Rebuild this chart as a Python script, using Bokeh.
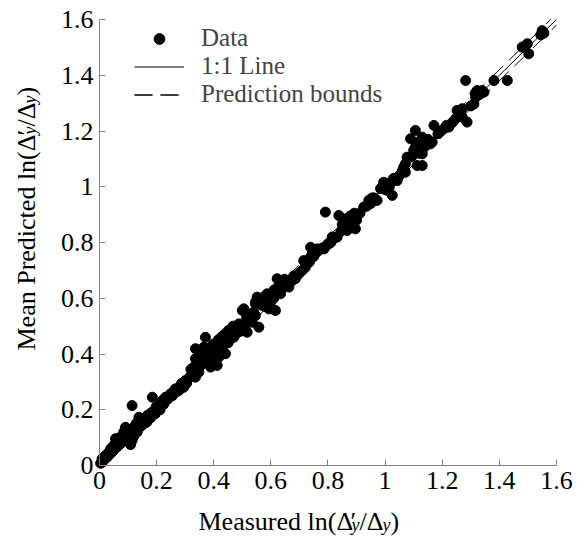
import math
from bokeh.plotting import figure
from bokeh.models import Label, Legend, LegendItem, FixedTicker, Range1d
from bokeh.embed import file_html
from bokeh.resources import INLINE

# ---- data ----
measured = [
    0.004, 0.009, 0.015, 0.021, 0.027, 0.033, 0.039, 0.045, 0.050, 0.056,
    0.062, 0.060, 0.070, 0.075, 0.080, 0.091, 0.085, 0.095, 0.103, 0.109,
    0.114, 0.120, 0.126, 0.114, 0.132, 0.138, 0.138, 0.145, 0.150, 0.155,
    0.161, 0.165, 0.173, 0.178, 0.185, 0.190, 0.195, 0.200, 0.208, 0.212,
    0.220, 0.225, 0.231, 0.235, 0.240, 0.249, 0.255, 0.260, 0.266, 0.270,
    0.278, 0.284, 0.290, 0.295, 0.301, 0.305, 0.310, 0.318, 0.325, 0.330,
    0.336, 0.336, 0.336, 0.340, 0.348, 0.355, 0.360, 0.365, 0.371, 0.375,
    0.383, 0.389, 0.395, 0.400, 0.406, 0.412, 0.418, 0.420, 0.430, 0.435,
    0.441, 0.447, 0.450, 0.455, 0.465, 0.470, 0.475, 0.482, 0.488, 0.490,
    0.500, 0.500, 0.505, 0.510, 0.517, 0.523, 0.529, 0.535, 0.546, 0.546,
    0.546, 0.552, 0.558, 0.570, 0.575, 0.580, 0.587, 0.593, 0.593, 0.600,
    0.605, 0.610, 0.616, 0.616, 0.622, 0.628, 0.634, 0.640, 0.645, 0.650,
    0.663, 0.669, 0.675, 0.686, 0.692, 0.700, 0.710, 0.715, 0.720, 0.727,
    0.735, 0.739, 0.739, 0.750, 0.762, 0.770, 0.786, 0.790, 0.791, 0.803,
    0.810, 0.820, 0.832, 0.838, 0.845, 0.855, 0.867, 0.867, 0.875, 0.879,
    0.885, 0.890, 0.896, 0.900, 0.912, 0.925, 0.935, 0.943, 0.950, 0.962,
    0.972, 0.984, 0.995, 1.000, 1.007, 1.015, 1.025, 1.025, 1.042, 1.050,
    1.060, 1.071, 1.071, 1.077, 1.089, 1.089, 1.100, 1.106, 1.112, 1.120,
    1.130, 1.130, 1.130, 1.136, 1.147, 1.159, 1.165, 1.171, 1.185, 1.206,
    1.223, 1.235, 1.247, 1.252, 1.270, 1.270, 1.287, 1.282, 1.311, 1.317,
    1.322, 1.330, 1.346, 1.381, 1.428, 1.480, 1.498, 1.503, 1.545, 1.556,
    0.010, 0.018, 0.030, 0.042, 0.052, 0.065, 0.070, 0.085, 0.098, 0.118,
    0.128, 0.142, 0.158, 0.168, 0.182, 0.198, 0.215, 0.245, 0.262, 0.288,
    0.320, 0.345, 0.352, 0.362, 0.378, 0.392, 0.410, 0.425, 0.445, 0.460,
    0.478, 0.515, 0.540, 0.560, 0.565, 0.585, 0.600, 0.625, 0.655, 0.680,
    0.745, 0.758, 0.780, 0.815, 0.850, 0.860, 0.872, 0.882, 0.955, 0.990,
    1.030, 1.065, 1.095, 1.105, 1.125, 1.140, 1.150, 1.195, 1.215, 1.260,
    1.300, 1.315, 1.340, 1.550,
    0.345, 0.358, 0.372, 0.385, 0.398, 0.415, 0.428, 0.438, 0.452, 0.468,
    0.575, 0.590, 0.612, 0.632, 0.648, 0.862, 0.878, 0.892, 1.110, 1.118,
]
predicted = [
    0.008, 0.024, 0.020, 0.036, 0.030, 0.048, 0.060, 0.050, 0.072, 0.096,
    0.084, 0.065, 0.075, 0.090, 0.085, 0.137, 0.110, 0.100, 0.114, 0.075,
    0.090, 0.105, 0.132, 0.215, 0.120, 0.137, 0.173, 0.140, 0.149, 0.150,
    0.161, 0.155, 0.173, 0.170, 0.245, 0.191, 0.185, 0.200, 0.209, 0.200,
    0.233, 0.220, 0.245, 0.235, 0.240, 0.257, 0.250, 0.258, 0.275, 0.265,
    0.269, 0.287, 0.280, 0.281, 0.305, 0.295, 0.310, 0.320, 0.330, 0.353,
    0.317, 0.383, 0.419, 0.340, 0.335, 0.360, 0.365, 0.424, 0.460, 0.380,
    0.401, 0.353, 0.390, 0.383, 0.424, 0.359, 0.389, 0.400, 0.413, 0.466,
    0.401, 0.478, 0.440, 0.450, 0.472, 0.460, 0.470, 0.502, 0.508, 0.480,
    0.484, 0.556, 0.562, 0.500, 0.478, 0.538, 0.544, 0.514, 0.538, 0.580,
    0.586, 0.604, 0.496, 0.574, 0.604, 0.570, 0.616, 0.562, 0.586, 0.590,
    0.562, 0.600, 0.556, 0.616, 0.670, 0.630, 0.616, 0.635, 0.652, 0.645,
    0.640, 0.658, 0.665, 0.670, 0.682, 0.690, 0.700, 0.735, 0.710, 0.723,
    0.730, 0.747, 0.783, 0.750, 0.777, 0.775, 0.777, 0.785, 0.909, 0.795,
    0.800, 0.815, 0.819, 0.897, 0.840, 0.860, 0.879, 0.843, 0.870, 0.861,
    0.873, 0.885, 0.849, 0.880, 0.905, 0.927, 0.930, 0.951, 0.940, 0.960,
    0.951, 0.993, 1.016, 0.990, 0.987, 1.000, 1.022, 0.969, 1.022, 1.040,
    1.055, 1.052, 1.082, 1.106, 1.106, 1.172, 1.130, 1.202, 1.076, 1.120,
    1.076, 1.118, 1.178, 1.142, 1.166, 1.154, 1.160, 1.220, 1.190, 1.208,
    1.214, 1.230, 1.244, 1.274, 1.280, 1.250, 1.232, 1.381, 1.297, 1.321,
    1.345, 1.330, 1.339, 1.381, 1.381, 1.501, 1.513, 1.477, 1.545, 1.551,
    0.012, 0.030, 0.040, 0.055, 0.060, 0.090, 0.100, 0.120, 0.130, 0.135,
    0.150, 0.160, 0.170, 0.180, 0.190, 0.210, 0.225, 0.250, 0.270, 0.295,
    0.345, 0.370, 0.400, 0.410, 0.420, 0.415, 0.430, 0.440, 0.455, 0.480,
    0.490, 0.530, 0.550, 0.590, 0.580, 0.595, 0.605, 0.640, 0.660, 0.680,
    0.760, 0.765, 0.780, 0.820, 0.865, 0.870, 0.855, 0.890, 0.960, 1.000,
    1.030, 1.070, 1.110, 1.140, 1.140, 1.155, 1.170, 1.200, 1.220, 1.265,
    1.290, 1.335, 1.345, 1.560,
    0.380, 0.395, 0.405, 0.420, 0.435, 0.450, 0.462, 0.470, 0.485, 0.500,
    0.600, 0.612, 0.630, 0.648, 0.668, 0.885, 0.895, 0.905, 1.150, 1.160,
]
line_x = [0.0, 1.6]
line_y = [0.0, 1.6]
upper_x = [0.0, 1.58]
upper_y = [0.02, 1.6]
lower_x = [0.02, 1.6]
lower_y = [0.0, 1.58]
ticks = [0, 0.2, 0.4, 0.6, 0.8, 1, 1.2, 1.4, 1.6]
tick_labels = ["0", "0.2", "0.4", "0.6", "0.8", "1", "1.2", "1.4", "1.6"]

SERIF = "Liberation Serif"

# frame covers the whole canvas; axes are pinned at data 0
W, H = 577, 539
X0, XS = 99, 285.6      # pixel of x=0, pixels per unit
Y0, YS = 465, 278.75    # pixel of y=0, pixels per unit

def px_x(px):
    return (px - X0) / XS

def px_y(py):
    return (Y0 - py) / YS

p = figure(width=W, height=H, output_backend="svg", toolbar_location=None,
           x_range=Range1d(px_x(0), px_x(W)), y_range=Range1d(px_y(H), px_y(0)),
           min_border=0, min_border_left=0, min_border_right=0,
           min_border_top=0, min_border_bottom=0)
p.grid.visible = False
p.outline_line_color = None
p.background_fill_color = "white"
p.border_fill_color = "white"

for ax in (p.xaxis[0], p.yaxis[0]):
    ax.fixed_location = 0
    ax.bounds = (0, 1.6)
    ax.ticker = FixedTicker(ticks=ticks)
    ax.major_label_overrides = dict(zip(ticks, tick_labels))
    ax.axis_line_color = "#808080"
    ax.major_tick_line_color = "#808080"
    ax.major_tick_in = 6
    ax.major_tick_out = 0
    ax.minor_tick_line_color = None
    ax.major_label_text_font = SERIF
    ax.major_label_text_font_size = "26px"
    ax.major_label_text_color = "black"
    ax.major_label_standoff = 6

r_line = p.line(line_x, line_y, line_color="black", line_width=1)
r_up = p.line(upper_x, upper_y, line_color="black", line_width=1, line_dash="18 8")
r_lo = p.line(lower_x, lower_y, line_color="black", line_width=1, line_dash="18 8")
r_data = p.scatter(measured, predicted, size=10, fill_color="black", line_color="black")

legend = Legend(items=[
    LegendItem(label="Data", renderers=[r_data]),
    LegendItem(label="1:1 Line", renderers=[r_line]),
    LegendItem(label="Prediction bounds", renderers=[r_up, r_lo]),
], location=(134, H - 17 - 91))
legend.border_line_color = None
legend.background_fill_alpha = 0
legend.label_text_font = SERIF
legend.label_text_font_size = "25px"
legend.glyph_width = 50
legend.glyph_height = 27
legend.label_height = 27
legend.spacing = 0
legend.padding = 5
legend.margin = 0
legend.label_standoff = 17
p.add_layout(legend)

# ---- axis titles built from text pieces ----
xl_x, xl_y = px_x(198), px_y(521)
x_parts = [
    ("Measured ln(\u0394", 0, 0, "26px", "normal"),
    ("\u2032", 152, 0, "26px", "normal"),
    ("y", 153, -3, "18px", "italic"),
    ("/\u0394", 161, 0, "26px", "normal"),
    ("y", 184, -3, "18px", "italic"),
    (")", 192, 0, "26px", "normal"),
]
for txt, dx, dy, fs, style in x_parts:
    p.add_layout(Label(x=xl_x, y=xl_y, text=txt, x_offset=dx, y_offset=dy,
                       text_font=SERIF, text_font_size=fs, text_font_style=style,
                       text_align="left", text_baseline="alphabetic",
                       text_color="black"))

yl_x, yl_y = px_x(26), px_y(350)
y_parts = [
    ("Mean Predicted ln(\u0394", 0, 0, "26px", "normal"),
    ("\u2032", 0, 215, "26px", "normal"),
    ("y", 3, 216, "18px", "italic"),
    ("/\u0394", 0, 224, "26px", "normal"),
    ("y", 3, 247, "18px", "italic"),
    (")", 0, 255, "26px", "normal"),
]
for txt, dx, dy, fs, style in y_parts:
    p.add_layout(Label(x=yl_x, y=yl_y, text=txt, x_offset=dx, y_offset=dy,
                       angle=math.pi / 2,
                       text_font=SERIF, text_font_size=fs, text_font_style=style,
                       text_align="left", text_baseline="alphabetic",
                       text_color="black"))

open("out.html", "w").write(file_html(p, INLINE))
